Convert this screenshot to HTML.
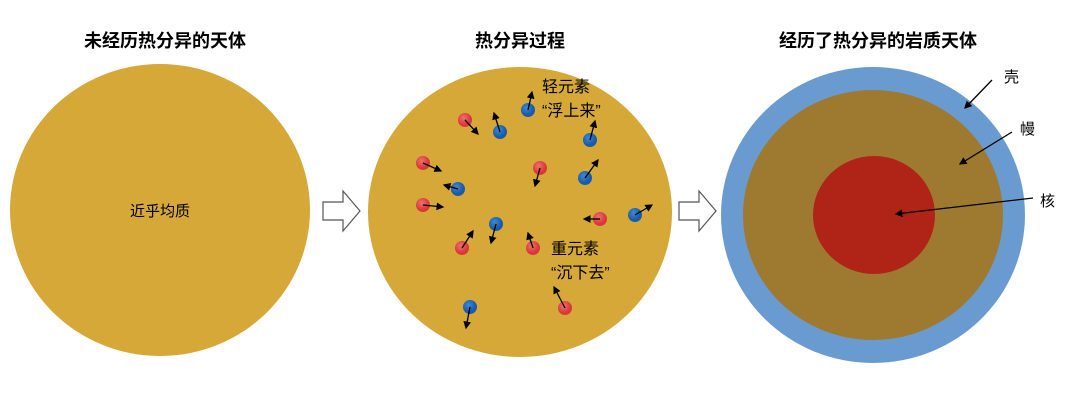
<!DOCTYPE html>
<html><head><meta charset="utf-8"><style>
body{margin:0;background:#fff;}
svg text{font-family:"Liberation Sans","Noto Sans CJK SC",sans-serif;}
</style></head><body>
<svg width="1080" height="400" viewBox="0 0 1080 400" xmlns="http://www.w3.org/2000/svg">
<defs>
<marker id="a" markerWidth="6" markerHeight="6" refX="5" refY="3" orient="auto"><path d="M0,0 L6,3 L0,6 z" fill="#000"/></marker>
<radialGradient id="r" cx="40%" cy="35%"><stop offset="0" stop-color="#f07070"/><stop offset="1" stop-color="#d83838"/></radialGradient>
<radialGradient id="b" cx="40%" cy="35%"><stop offset="0" stop-color="#3a8ad8"/><stop offset="1" stop-color="#1a5aa8"/></radialGradient>
</defs>
<g font-weight="bold" font-size="18" text-anchor="middle" fill="#000">
<text x="165" y="47">未经历热分异的天体</text>
<text x="520" y="47">热分异过程</text>
<text x="878" y="47">经历了热分异的岩质天体</text>
</g>
<ellipse cx="160" cy="210" rx="150" ry="146" fill="#D5A838"/>
<text x="160" y="216" font-size="15" text-anchor="middle">近乎均质</text>
<path d="M323,202 H343 V191 L360,211 L343,231 V220 H323 Z" fill="#fff" stroke="#555" stroke-width="1.2"/>
<path d="M679,202 H699 V191 L716,211 L699,231 V220 H679 Z" fill="#fff" stroke="#555" stroke-width="1.2"/>
<ellipse cx="520" cy="212" rx="152" ry="145" fill="#D5A838"/>
<g>
<circle cx="465" cy="120" r="7" fill="url(#r)"/>
<circle cx="423" cy="163" r="7" fill="url(#r)"/>
<circle cx="540" cy="168" r="7" fill="url(#r)"/>
<circle cx="423" cy="205" r="7" fill="url(#r)"/>
<circle cx="600" cy="219" r="7" fill="url(#r)"/>
<circle cx="462" cy="248" r="7" fill="url(#r)"/>
<circle cx="533" cy="248" r="7" fill="url(#r)"/>
<circle cx="565" cy="308" r="7" fill="url(#r)"/>
<circle cx="500" cy="132" r="7" fill="url(#b)"/>
<circle cx="528" cy="110" r="7" fill="url(#b)"/>
<circle cx="590" cy="140" r="7" fill="url(#b)"/>
<circle cx="585" cy="178" r="7" fill="url(#b)"/>
<circle cx="458" cy="189" r="7" fill="url(#b)"/>
<circle cx="635" cy="215" r="7" fill="url(#b)"/>
<circle cx="496" cy="224" r="7" fill="url(#b)"/>
<circle cx="470" cy="307" r="7" fill="url(#b)"/>
</g>
<g stroke="#000" stroke-width="1.3" marker-end="url(#a)">
<line x1="465" y1="120" x2="478" y2="134"/>
<line x1="423" y1="163" x2="441" y2="171"/>
<line x1="540" y1="168" x2="535" y2="186"/>
<line x1="423" y1="205" x2="443" y2="207"/>
<line x1="600" y1="219" x2="584" y2="219"/>
<line x1="462" y1="248" x2="473" y2="231"/>
<line x1="533" y1="248" x2="528" y2="233"/>
<line x1="565" y1="308" x2="554" y2="287"/>
<line x1="500" y1="132" x2="494" y2="113"/>
<line x1="528" y1="110" x2="532" y2="92"/>
<line x1="590" y1="140" x2="595" y2="121"/>
<line x1="585" y1="178" x2="598" y2="160"/>
<line x1="458" y1="189" x2="444" y2="185"/>
<line x1="635" y1="215" x2="652" y2="205"/>
<line x1="496" y1="224" x2="491" y2="243"/>
<line x1="470" y1="307" x2="466" y2="328"/>
</g>
<g font-size="16" fill="#000">
<text x="542" y="92">轻元素</text>
<text x="542" y="116">“浮上来”</text>
<text x="551" y="254">重元素</text>
<text x="551" y="278">“沉下去”</text>
</g>
<ellipse cx="873" cy="215" rx="152" ry="148" fill="#6A9BD0"/>
<ellipse cx="873" cy="215" rx="130" ry="125" fill="#9E7A30"/>
<ellipse cx="874" cy="215" rx="61" ry="59" fill="#B02418"/>
<g stroke="#000" stroke-width="1.3" marker-end="url(#a)">
<line x1="992" y1="80" x2="965" y2="108"/>
<line x1="1012" y1="132" x2="960" y2="164"/>
<line x1="1033" y1="198" x2="896" y2="214"/>
</g>
<g font-size="15" fill="#000">
<text x="1004" y="82">壳</text>
<text x="1020" y="134">幔</text>
<text x="1040" y="206">核</text>
</g>
</svg>
</body></html>
